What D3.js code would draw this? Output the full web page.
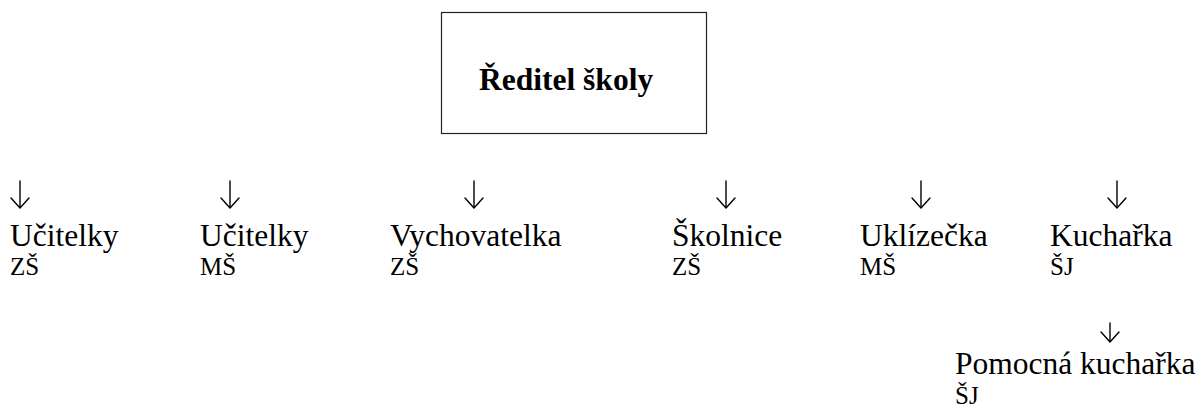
<!DOCTYPE html>
<html>
<head>
<meta charset="utf-8">
<script src="https://cdn.jsdelivr.net/npm/d3@7"></script>
</head>
<body style="margin:0;padding:0;background:#fff">
<svg id="chart" width="1201" height="410" style="display:block"></svg>
<script>
// ---- data ----
const rootLabel = "Ředitel školy";
const roles = ["Učitelky", "Učitelky", "Vychovatelka", "Školnice", "Uklízečka", "Kuchařka"];
const units = ["ZŠ", "MŠ", "ZŠ", "ZŠ", "MŠ", "ŠJ"];
const subRoles = ["Pomocná kuchařka"];
const subUnits = ["ŠJ"];
const subParent = ["Kuchařka"];

// ---- layout ----
const FONT = '"Liberation Serif", "Tinos", "Times New Roman", serif';
const svg = d3.select("#chart");

// column tab stops (text left edges) and arrow centres
const colLeft = [10, 200, 390, 672, 860, 1050];
const arrowX = [20, 230, 474, 726, 921, 1117];
const x = d3.scaleOrdinal().domain(d3.range(roles.length)).range(colLeft);
const ax = d3.scaleOrdinal().domain(d3.range(roles.length)).range(arrowX);

function label(sel) {
  return sel.style("font-family", FONT).attr("fill", "#000");
}

// root box
const box = { x0: 441, x1: 706, y0: 12, y1: 133 };
svg.append("rect")
  .attr("x", box.x0 + 0.5).attr("y", box.y0 + 0.5)
  .attr("width", box.x1 - box.x0).attr("height", box.y1 - box.y0)
  .attr("fill", "none").attr("stroke", "#222").attr("stroke-width", 1.2);
label(svg.append("text"))
  .attr("x", 479).attr("y", 90)
  .style("font-size", "31.5px").style("font-weight", "bold")
  .text(rootLabel);

function arrow(cx, top, bottom) {
  const g = svg.append("g").attr("fill", "none").attr("stroke", "#000")
    .attr("stroke-width", 1.4).attr("stroke-linecap", "round").attr("stroke-linejoin", "round");
  g.append("line").attr("x1", cx).attr("x2", cx).attr("y1", top).attr("y2", bottom - 0.5);
  g.append("path").attr("d", `M${cx - 9},${bottom - 10} L${cx},${bottom} L${cx + 9},${bottom - 10}`);
}

// first level
const nodes = svg.selectAll("g.node").data(roles).join("g").attr("class", "node");
nodes.each(function(d, i) { arrow(ax(i), 181, 208); });
label(nodes.append("text"))
  .attr("x", (d, i) => x(i)).attr("y", 246)
  .style("font-size", "31.5px")
  .text(d => d);
label(nodes.append("text"))
  .attr("x", (d, i) => x(i)).attr("y", 275)
  .style("font-size", "25px")
  .text((d, i) => units[i]);

// second level under its parent
subRoles.forEach((r, j) => {
  const pi = roles.indexOf(subParent[j]);
  arrow(ax(pi) - 7, 323, 342);
  label(svg.append("text"))
    .attr("x", 955).attr("y", 374)
    .style("font-size", "31.5px")
    .text(r);
  label(svg.append("text"))
    .attr("x", 955).attr("y", 404)
    .style("font-size", "25px")
    .text(subUnits[j]);
});
</script>
</body>
</html>
